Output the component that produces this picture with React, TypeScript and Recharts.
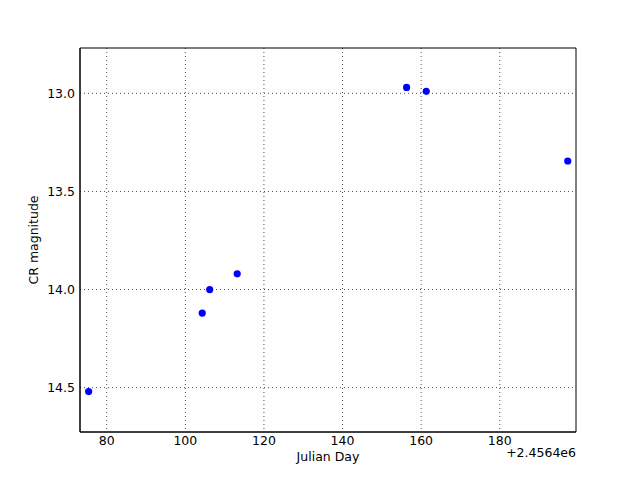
import {
  ScatterChart,
  Scatter,
  XAxis,
  YAxis,
  CartesianGrid,
  Label,
  ReferenceArea,
} from 'recharts'

// days are offset from 2.4564e6
const days = [75.4, 104.3, 106.2, 113.2, 156.3, 161.3, 197.3]
const mags = [14.52, 14.12, 14.0, 13.92, 12.97, 12.99, 13.345]
const xTicks = [80, 100, 120, 140, 160, 180]
const yTicks = [13.0, 13.5, 14.0, 14.5]
const xDomain = [73.2, 199.4]
const yDomain = [12.769, 14.726]

const data = days.map((d, i) => ({ day: d, mag: mags[i] }))

const font = 'DejaVu Sans'
const tick = { fontSize: 12.5, fill: '#000', fontFamily: font }
const txt = { fontSize: 12.5, fill: '#000', fontFamily: font }

const Dot = (props: any) => {
  const { cx, cy } = props
  if (cx == null || cy == null) return null
  return <circle cx={cx} cy={cy} r={3.6} fill="#0000ff" />
}

export default function App() {
  return (
    <div style={{ position: 'absolute', left: 0, top: 0, width: 640, height: 480, background: '#fff' }}>
      <ScatterChart width={640} height={480} margin={{ top: 48, right: 64, bottom: 0, left: 20 }}>
        <CartesianGrid
          stroke="#000"
          strokeDasharray="1 3"
          strokeOpacity={0.7}
          verticalValues={xTicks}
          horizontalValues={yTicks}
        />
        <XAxis
          type="number"
          dataKey="day"
          domain={xDomain}
          ticks={xTicks}
          tick={tick}
          tickLine={false}
          tickSize={0}
          tickMargin={4}
          axisLine={{ stroke: '#000' }}
          height={48}
          allowDataOverflow
        >
          <Label
            content={({ viewBox }: any) => (
              <g>
                <text x={viewBox.x + viewBox.width / 2} y={viewBox.y + 29} textAnchor="middle" style={txt}>
                  Julian Day
                </text>
                <text x={viewBox.x + viewBox.width} y={viewBox.y + 25} textAnchor="end" style={txt}>
                  +2.4564e6
                </text>
              </g>
            )}
          />
        </XAxis>
        <YAxis
          type="number"
          dataKey="mag"
          reversed
          domain={yDomain}
          ticks={yTicks}
          tickFormatter={(v: number) => v.toFixed(1)}
          tick={tick}
          tickLine={false}
          tickSize={0}
          tickMargin={5}
          axisLine={{ stroke: '#000' }}
          width={60}
          allowDataOverflow
        >
          <Label
            content={({ viewBox }: any) => {
              const cx = 38
              const cy = viewBox.y + viewBox.height / 2
              return (
                <text x={cx} y={cy} transform={`rotate(-90 ${cx} ${cy})`} textAnchor="middle" style={txt}>
                  CR magnitude
                </text>
              )
            }}
          />
        </YAxis>
        <ReferenceArea
          x1={xDomain[0]}
          x2={xDomain[1]}
          y1={yDomain[0]}
          y2={yDomain[1]}
          fill="none"
          stroke="#000"
          strokeWidth={1}
          ifOverflow="visible"
        />
        <Scatter data={data} shape={<Dot />} isAnimationActive={false} />
      </ScatterChart>
    </div>
  )
}
